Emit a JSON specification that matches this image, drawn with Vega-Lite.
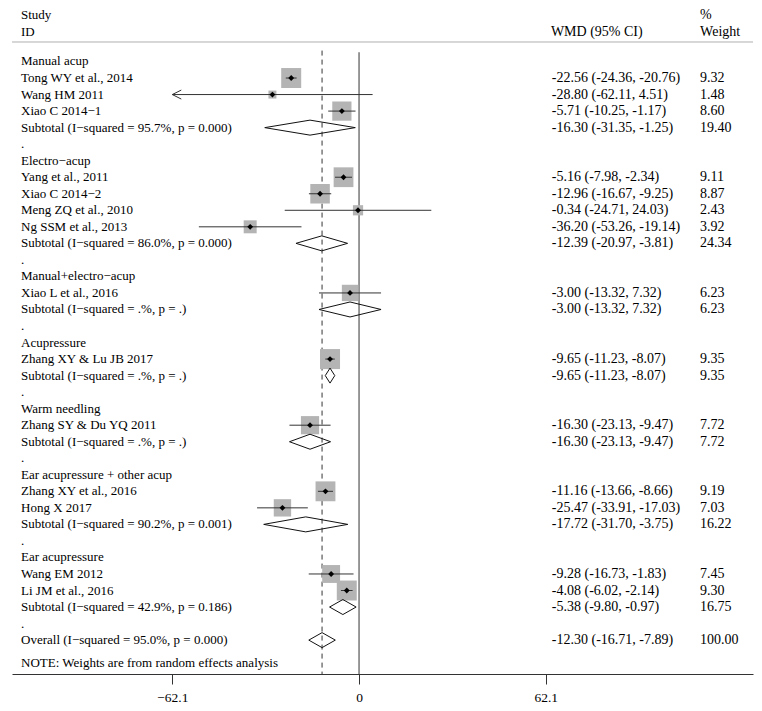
{
  "$schema": "https://vega.github.io/schema/vega-lite/v6.json",
  "width": 741,
  "height": 674,
  "autosize": {"type": "none"},
  "padding": {"left": 12, "top": 0, "right": 9, "bottom": 37},
  "background": "white",
  "config": {
    "view": {"stroke": null},
    "text": {"font": "Liberation Serif", "fontSize": 13, "color": "#000"}
  },
  "datasets": {
    "rows": [
      {"row": 0, "type": "head", "label": "Manual acup"},
      {"row": 1, "type": "study", "label": "Tong WY et al., 2014", "est": -22.56, "lo": -24.36, "hi": -20.76, "w": 9.32, "ci": "-22.56 (-24.36, -20.76)"},
      {"row": 2, "type": "study", "label": "Wang HM 2011", "est": -28.80, "lo": -62.11, "hi": 4.51, "w": 1.48, "ci": "-28.80 (-62.11, 4.51)"},
      {"row": 3, "type": "study", "label": "Xiao C 2014−1", "est": -5.71, "lo": -10.25, "hi": -1.17, "w": 8.60, "ci": "-5.71 (-10.25, -1.17)"},
      {"row": 4, "type": "sub", "label": "Subtotal (I−squared = 95.7%, p = 0.000)", "est": -16.30, "lo": -31.35, "hi": -1.25, "w": 19.40, "ci": "-16.30 (-31.35, -1.25)"},
      {"row": 5, "type": "dot", "label": "."},
      {"row": 6, "type": "head", "label": "Electro−acup"},
      {"row": 7, "type": "study", "label": "Yang et al., 2011", "est": -5.16, "lo": -7.98, "hi": -2.34, "w": 9.11, "ci": "-5.16 (-7.98, -2.34)"},
      {"row": 8, "type": "study", "label": "Xiao C 2014−2", "est": -12.96, "lo": -16.67, "hi": -9.25, "w": 8.87, "ci": "-12.96 (-16.67, -9.25)"},
      {"row": 9, "type": "study", "label": "Meng ZQ et al., 2010", "est": -0.34, "lo": -24.71, "hi": 24.03, "w": 2.43, "ci": "-0.34 (-24.71, 24.03)"},
      {"row": 10, "type": "study", "label": "Ng SSM et al., 2013", "est": -36.20, "lo": -53.26, "hi": -19.14, "w": 3.92, "ci": "-36.20 (-53.26, -19.14)"},
      {"row": 11, "type": "sub", "label": "Subtotal (I−squared = 86.0%, p = 0.000)", "est": -12.39, "lo": -20.97, "hi": -3.81, "w": 24.34, "ci": "-12.39 (-20.97, -3.81)"},
      {"row": 12, "type": "dot", "label": "."},
      {"row": 13, "type": "head", "label": "Manual+electro−acup"},
      {"row": 14, "type": "study", "label": "Xiao L et al., 2016", "est": -3.00, "lo": -13.32, "hi": 7.32, "w": 6.23, "ci": "-3.00 (-13.32, 7.32)"},
      {"row": 15, "type": "sub", "label": "Subtotal (I−squared = .%, p = .)", "est": -3.00, "lo": -13.32, "hi": 7.32, "w": 6.23, "ci": "-3.00 (-13.32, 7.32)"},
      {"row": 16, "type": "dot", "label": "."},
      {"row": 17, "type": "head", "label": "Acupressure"},
      {"row": 18, "type": "study", "label": "Zhang XY & Lu JB 2017", "est": -9.65, "lo": -11.23, "hi": -8.07, "w": 9.35, "ci": "-9.65 (-11.23, -8.07)"},
      {"row": 19, "type": "sub", "label": "Subtotal (I−squared = .%, p = .)", "est": -9.65, "lo": -11.23, "hi": -8.07, "w": 9.35, "ci": "-9.65 (-11.23, -8.07)"},
      {"row": 20, "type": "dot", "label": "."},
      {"row": 21, "type": "head", "label": "Warm needling"},
      {"row": 22, "type": "study", "label": "Zhang SY & Du YQ 2011", "est": -16.30, "lo": -23.13, "hi": -9.47, "w": 7.72, "ci": "-16.30 (-23.13, -9.47)"},
      {"row": 23, "type": "sub", "label": "Subtotal (I−squared = .%, p = .)", "est": -16.30, "lo": -23.13, "hi": -9.47, "w": 7.72, "ci": "-16.30 (-23.13, -9.47)"},
      {"row": 24, "type": "dot", "label": "."},
      {"row": 25, "type": "head", "label": "Ear acupressure + other acup"},
      {"row": 26, "type": "study", "label": "Zhang XY et al., 2016", "est": -11.16, "lo": -13.66, "hi": -8.66, "w": 9.19, "ci": "-11.16 (-13.66, -8.66)"},
      {"row": 27, "type": "study", "label": "Hong X 2017", "est": -25.47, "lo": -33.91, "hi": -17.03, "w": 7.03, "ci": "-25.47 (-33.91, -17.03)"},
      {"row": 28, "type": "sub", "label": "Subtotal (I−squared = 90.2%, p = 0.001)", "est": -17.72, "lo": -31.70, "hi": -3.75, "w": 16.22, "ci": "-17.72 (-31.70, -3.75)"},
      {"row": 29, "type": "dot", "label": "."},
      {"row": 30, "type": "head", "label": "Ear acupressure"},
      {"row": 31, "type": "study", "label": "Wang EM 2012", "est": -9.28, "lo": -16.73, "hi": -1.83, "w": 7.45, "ci": "-9.28 (-16.73, -1.83)"},
      {"row": 32, "type": "study", "label": "Li JM et al., 2016", "est": -4.08, "lo": -6.02, "hi": -2.14, "w": 9.30, "ci": "-4.08 (-6.02, -2.14)"},
      {"row": 33, "type": "sub", "label": "Subtotal (I−squared = 42.9%, p = 0.186)", "est": -5.38, "lo": -9.80, "hi": -0.97, "w": 16.75, "ci": "-5.38 (-9.80, -0.97)"},
      {"row": 34, "type": "dot", "label": "."},
      {"row": 35, "type": "overall", "label": "Overall (I−squared = 95.0%, p = 0.000)", "est": -12.30, "lo": -16.71, "hi": -7.89, "w": 100.00, "ci": "-12.30 (-16.71, -7.89)"},
      {"row": 36.4, "type": "note", "label": "NOTE: Weights are from random effects analysis"}
    ],
    "header": [
      {"row": -2.81, "left": "Study", "mid": "", "right": "%"},
      {"row": -1.78, "left": "ID", "mid": "WMD (95% CI)", "right": "Weight"}
    ]
  },
  "layer": [
    {
      "data": {"name": "header"},
      "mark": {"type": "rule", "color": "#b0b0b0", "strokeWidth": 1},
      "transform": [{"filter": "datum.left == 'ID'"}],
      "encoding": {
        "y": {"datum": -1.18, "type": "quantitative", "scale": {"domain": [-3.72, 37.05], "reverse": true, "nice": false, "zero": false}, "axis": null}
      }
    },
    {
      "data": {"name": "header"},
      "transform": [{"filter": "datum.left == 'ID'"}],
      "mark": {"type": "rule", "color": "#333", "strokeWidth": 1},
      "encoding": {
        "x": {"datum": 0, "type": "quantitative", "scale": {"domain": [-115.4, 131.0], "nice": false, "zero": false},
          "axis": {"values": [-62.1, 0, 62.1], "labelExpr": "datum.value == 0 ? '0' : format(datum.value, '.1f')", "title": null, "grid": false, "domainColor": "#333", "tickColor": "#333", "tickSize": 10, "labelFont": "Liberation Serif", "labelFontSize": 13.5, "labelColor": "#000", "labelPadding": 6, "labelFlush": false}},
        "y": {"datum": -0.56, "type": "quantitative"},
        "y2": {"datum": 37.05}
      }
    },
    {
      "data": {"name": "rows"},
      "transform": [{"filter": "datum.type == 'overall'"}],
      "mark": {"type": "rule", "color": "#333", "strokeWidth": 1, "strokeDash": [5, 4]},
      "encoding": {
        "x": {"field": "est", "type": "quantitative"},
        "y": {"datum": -0.66, "type": "quantitative"},
        "y2": {"datum": 37.05}
      }
    },
    {
      "data": {"name": "rows"},
      "transform": [{"filter": "datum.type == 'study'"}],
      "mark": {"type": "point", "shape": "square", "filled": true, "color": "#b4b4b4", "opacity": 1},
      "encoding": {
        "x": {"field": "est", "type": "quantitative"},
        "y": {"field": "row", "type": "quantitative"},
        "size": {"field": "w", "type": "quantitative", "scale": {"type": "linear", "domain": [0, 9.32], "range": [0, 400]}, "legend": null}
      }
    },
    {
      "data": {"name": "rows"},
      "transform": [{"filter": "datum.type == 'study'"}],
      "mark": {"type": "rule", "color": "#333", "strokeWidth": 1},
      "encoding": {
        "x": {"field": "lo", "type": "quantitative"},
        "x2": {"field": "hi"},
        "y": {"field": "row", "type": "quantitative"}
      }
    },
    {
      "data": {"name": "rows"},
      "transform": [{"filter": "datum.type == 'study'"}],
      "mark": {"type": "point", "shape": "diamond", "filled": true, "color": "#000", "opacity": 1, "size": 34},
      "encoding": {
        "x": {"field": "est", "type": "quantitative"},
        "y": {"field": "row", "type": "quantitative"}
      }
    },
    {
      "data": {"name": "rows"},
      "transform": [{"filter": "datum.type == 'study' && datum.lo < -62.1"}],
      "mark": {"type": "point", "shape": "M0,0L2,-1M0,0L2,1", "filled": false, "stroke": "#333", "strokeWidth": 1, "opacity": 1, "size": 81},
      "encoding": {
        "x": {"datum": -62.1, "type": "quantitative"},
        "y": {"field": "row", "type": "quantitative"}
      }
    },
    {
      "data": {"name": "rows"},
      "transform": [{"filter": "datum.type == 'sub' || datum.type == 'overall'"}],
      "mark": {"type": "rule", "color": "#111", "strokeWidth": 1, "y2Offset": -7.5},
      "encoding": {
        "x": {"field": "lo", "type": "quantitative"},
        "x2": {"field": "est"},
        "y": {"field": "row", "type": "quantitative"},
        "y2": {"field": "row"}
      }
    },
    {
      "data": {"name": "rows"},
      "transform": [{"filter": "datum.type == 'sub' || datum.type == 'overall'"}],
      "mark": {"type": "rule", "color": "#111", "strokeWidth": 1, "yOffset": -7.5},
      "encoding": {
        "x": {"field": "est", "type": "quantitative"},
        "x2": {"field": "hi"},
        "y": {"field": "row", "type": "quantitative"},
        "y2": {"field": "row"}
      }
    },
    {
      "data": {"name": "rows"},
      "transform": [{"filter": "datum.type == 'sub' || datum.type == 'overall'"}],
      "mark": {"type": "rule", "color": "#111", "strokeWidth": 1, "y2Offset": 7.5},
      "encoding": {
        "x": {"field": "hi", "type": "quantitative"},
        "x2": {"field": "est"},
        "y": {"field": "row", "type": "quantitative"},
        "y2": {"field": "row"}
      }
    },
    {
      "data": {"name": "rows"},
      "transform": [{"filter": "datum.type == 'sub' || datum.type == 'overall'"}],
      "mark": {"type": "rule", "color": "#111", "strokeWidth": 1, "yOffset": 7.5},
      "encoding": {
        "x": {"field": "est", "type": "quantitative"},
        "x2": {"field": "lo"},
        "y": {"field": "row", "type": "quantitative"},
        "y2": {"field": "row"}
      }
    },
    {
      "data": {"name": "rows"},
      "mark": {"type": "text", "align": "left", "baseline": "middle"},
      "encoding": {
        "x": {"datum": -112.4, "type": "quantitative"},
        "y": {"field": "row", "type": "quantitative"},
        "text": {"field": "label"}
      }
    },
    {
      "data": {"name": "rows"},
      "transform": [{"filter": "isValid(datum.ci)"}],
      "mark": {"type": "text", "align": "left", "baseline": "middle", "fontSize": 14},
      "encoding": {
        "x": {"datum": 64.1, "type": "quantitative"},
        "y": {"field": "row", "type": "quantitative"},
        "text": {"field": "ci"}
      }
    },
    {
      "data": {"name": "rows"},
      "transform": [{"filter": "isValid(datum.w)"}],
      "mark": {"type": "text", "align": "left", "baseline": "middle", "fontSize": 14},
      "encoding": {
        "x": {"datum": 113.4, "type": "quantitative"},
        "y": {"field": "row", "type": "quantitative"},
        "text": {"field": "w", "type": "quantitative", "format": ".2f"}
      }
    },
    {
      "data": {"name": "header"},
      "mark": {"type": "text", "align": "left", "baseline": "middle"},
      "encoding": {
        "x": {"datum": -112.4, "type": "quantitative"},
        "y": {"field": "row", "type": "quantitative"},
        "text": {"field": "left"}
      }
    },
    {
      "data": {"name": "header"},
      "mark": {"type": "text", "align": "left", "baseline": "middle", "fontSize": 14},
      "encoding": {
        "x": {"datum": 63.8, "type": "quantitative"},
        "y": {"field": "row", "type": "quantitative"},
        "text": {"field": "mid"}
      }
    },
    {
      "data": {"name": "header"},
      "mark": {"type": "text", "align": "left", "baseline": "middle", "fontSize": 14},
      "encoding": {
        "x": {"datum": 113.4, "type": "quantitative"},
        "y": {"field": "row", "type": "quantitative"},
        "text": {"field": "right"}
      }
    }
  ]
}
